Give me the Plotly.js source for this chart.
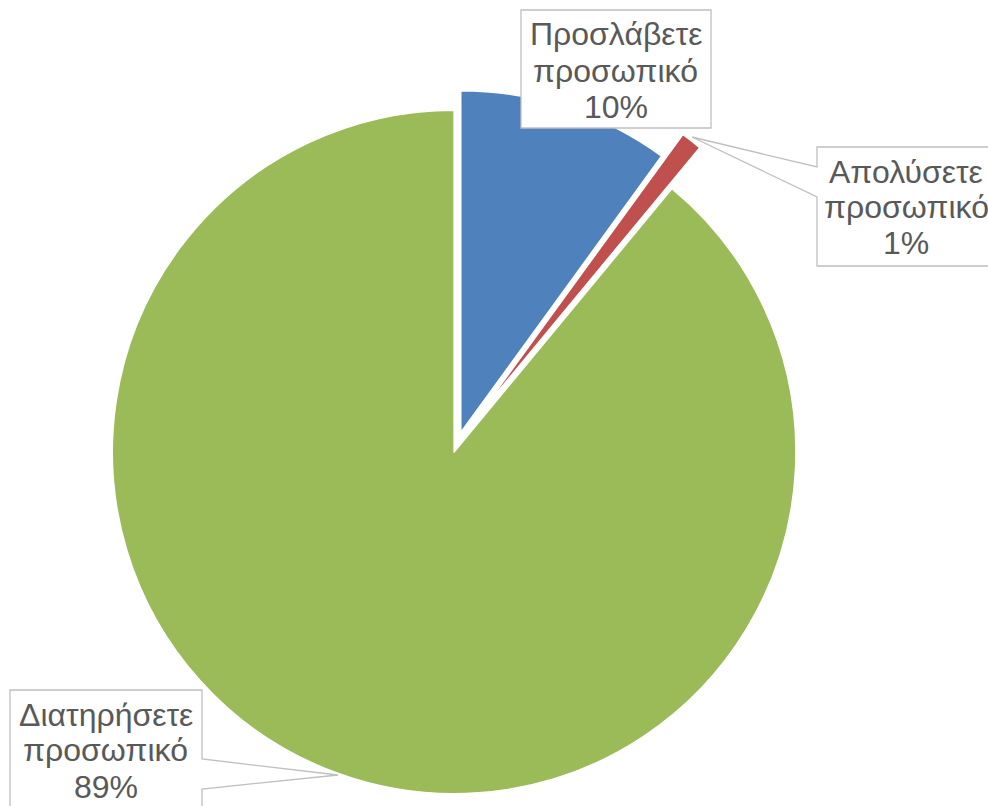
<!DOCTYPE html>
<html><head><meta charset="utf-8">
<script src="https://cdn.plot.ly/plotly-3.0.1.min.js"></script>
<style>html,body{margin:0;padding:0;overflow:hidden;background:#fff}#chart{width:1010px;height:840px}</style>
</head><body><div id="chart"></div><script>
// ---- data ----
const categories = ['Προσλάβετε προσωπικό', 'Απολύσετε προσωπικό', 'Διατηρήσετε προσωπικό'];
const values = [10, 1, 89];

// ---- styles / layout ----
const colors = ['#4F81BD', '#C0504D', '#9BBB59'];
const pulls = [0.03, 0.116, 0.03];
const W = 1010, H = 840;
const FONT = '"Liberation Sans", Arial, sans-serif';
const TEXT_COLOR = '#595959';
const BORDER = '#BFBFBF';

// label boxes in pixel space (callout shapes)
const boxes = [
  {x0: 521, y0: 10,  x1: 711,  y1: 128},
  {x0: 817, y0: 147, x1: 995,  y1: 266, side: 'left',  tip: [692, 137], notch: [167, 197]},
  {x0: 10,  y0: 690, x1: 202,  y1: 808, side: 'right', tip: [338, 775], notch: [759, 789]}
];

const total = values.reduce((a, b) => a + b, 0);
const pctLabels = values.map(v => Math.round(v / total * 100) + '%');

const px = x => (x / W).toFixed(5);
const py = y => (1 - y / H).toFixed(5);

const shapes = boxes.map(b => {
  let pts;
  if (b.side === 'left') {
    pts = [[b.x0, b.y0], [b.x1, b.y0], [b.x1, b.y1], [b.x0, b.y1], [b.x0, b.notch[1]], b.tip, [b.x0, b.notch[0]]];
  } else if (b.side === 'right') {
    pts = [[b.x0, b.y0], [b.x1, b.y0], [b.x1, b.notch[0]], b.tip, [b.x1, b.notch[1]], [b.x1, b.y1], [b.x0, b.y1]];
  } else {
    pts = [[b.x0, b.y0], [b.x1, b.y0], [b.x1, b.y1], [b.x0, b.y1]];
  }
  const path = pts.map((p, i) => (i ? 'L' : 'M') + px(p[0]) + ',' + py(p[1])).join(' ') + ' Z';
  return {type: 'path', xref: 'paper', yref: 'paper', path: path,
          fillcolor: '#FFFFFF', line: {color: BORDER, width: 1.3}, layer: 'above'};
});

const annotations = [];
categories.forEach((c, i) => {
  const lines = c.split(' ').concat([pctLabels[i]]);
  const b = boxes[i];
  const cx = (b.x0 + b.x1) / 2;
  lines.forEach((t, j) => {
    annotations.push({
      xref: 'paper', yref: 'paper', x: +px(cx), y: +py(b.y0 + 24.5 + 36 * j),
      xanchor: 'center', yanchor: 'middle', showarrow: false, text: t,
      font: {family: FONT, size: 32, color: TEXT_COLOR}
    });
  });
});

// pie placement
const R = 341.8, CX = 457.6, CY = 442.3;
const maxPull = Math.max(...pulls);
const half = R * (1 + maxPull);

const trace = {
  type: 'pie',
  labels: categories,
  values: values,
  sort: false,
  direction: 'clockwise',
  rotation: 0,
  pull: pulls,
  textinfo: 'none',
  textposition: 'none',
  hoverinfo: 'label+percent',
  marker: {colors: colors, line: {color: '#FFFFFF', width: 1.5}},
  domain: {x: [(CX - half) / W, (CX + half) / W], y: [1 - (CY + half) / H, 1 - (CY - half) / H]}
};

Plotly.newPlot('chart', [trace], {
  width: W, height: H,
  margin: {l: 0, r: 0, t: 0, b: 0},
  showlegend: false,
  paper_bgcolor: '#FFFFFF',
  shapes: shapes,
  annotations: annotations,
  font: {family: FONT}
}, {displayModeBar: false, staticPlot: true});
</script></body></html>
